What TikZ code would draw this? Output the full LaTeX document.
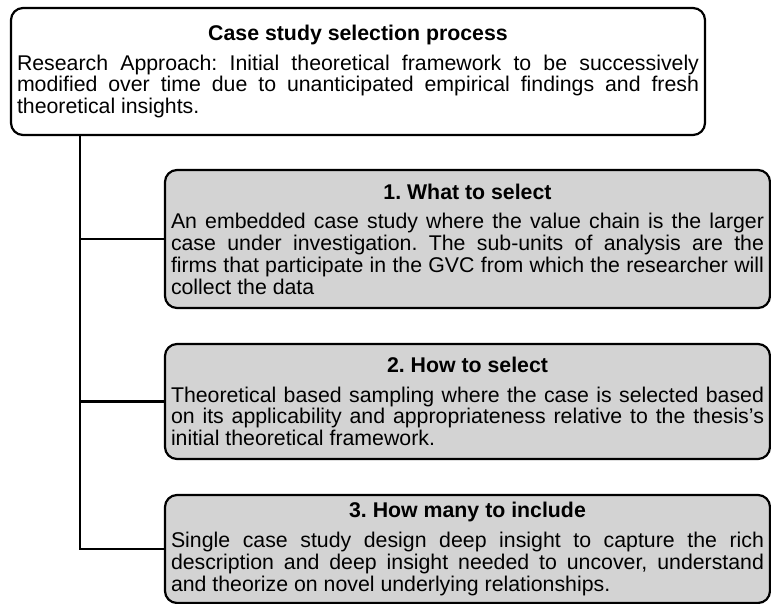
\documentclass[tikz,border=0pt]{standalone}
\usepackage{fontspec}
\setmainfont{Liberation Sans}
\usetikzlibrary{positioning}
\frenchspacing

\definecolor{boxgray}{RGB}{211,211,211}
\tikzset{
	stage/.style={draw, line width=2.2pt, rounded corners=12pt, align=justify, inner xsep=6pt, inner ysep=0pt, outer sep=0pt, font=\fontsize{21.3}{21.7}\selectfont},
	casebox/.style={stage, fill=boxgray, text width=593pt},
	link/.style={line width=2.2pt, line join=miter}
}
\newcommand{\boxtitle}[1]{{\centering\bfseries #1\par}\vspace{8pt}}

\begin{document}
\begin{tikzpicture}[x=1pt, y=-1pt]
\useasboundingbox (0,0) rectangle (771,604);

\node[stage, text width=682pt, minimum height=127pt, anchor=north west] (top) at (11,8) {
	\boxtitle{Case study selection process}
	Research Approach: Initial theoretical framework to be successively\linebreak
	modified over time due to unanticipated empirical findings and fresh\linebreak
	theoretical insights.
};

\node[casebox, minimum height=138pt, anchor=north west] (what) at (165,170) {
	\boxtitle{1. What to select}
	An embedded case study where the value chain is the larger\linebreak
	case under investigation. The sub-units of analysis are the\linebreak
	firms that participate in the GVC from which the researcher will\linebreak
	collect the data
};

\node[casebox, minimum height=115pt, below right=36pt and 0pt of what.south west] (how) {
	\boxtitle{2. How to select}
	Theoretical based sampling where the case is selected based\linebreak
	on its applicability and appropriateness relative to the thesis’s\linebreak
	initial theoretical framework.
};

\node[casebox, minimum height=108pt, below right=36pt and 0pt of how.south west] (many) {
	\boxtitle{3. How many to include}
	Single case study design deep insight to capture the rich\linebreak
	description and deep insight needed to uncover, understand\linebreak
	and theorize on novel underlying relationships.
};

\coordinate (trunk) at ([xshift=69pt]top.south west);
\draw[link] (trunk) |- (many.west);
\draw[link] (what.west) -- (what.west -| trunk);
\draw[link] (how.west) -- (how.west -| trunk);
\end{tikzpicture}
\end{document}
